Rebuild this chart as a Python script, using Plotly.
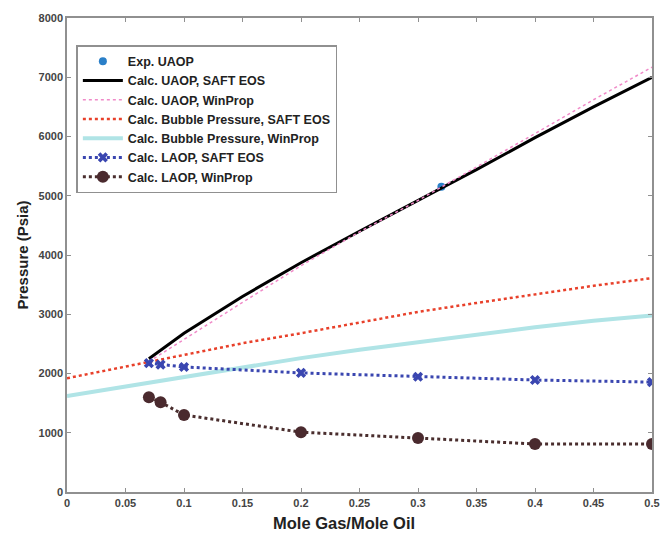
import plotly.graph_objects as go

# Data
exp_x = [0.32]
exp_y = [5150]

uaop_x = [0.07, 0.1, 0.15, 0.2, 0.25, 0.3, 0.35, 0.4, 0.45, 0.5]
uaop_saft = [2250, 2680, 3300, 3870, 4400, 4920, 5440, 5980, 6500, 7000]
uaop_winprop = [2200, 2570, 3200, 3820, 4390, 4920, 5480, 6050, 6620, 7170]

bub_x = [0, 0.05, 0.1, 0.15, 0.2, 0.25, 0.3, 0.35, 0.4, 0.45, 0.5]
bub_saft = [1920, 2120, 2320, 2510, 2680, 2860, 3040, 3190, 3340, 3480, 3610]
bub_winprop = [1620, 1780, 1940, 2100, 2260, 2400, 2530, 2650, 2780, 2890, 2980]

laop_x = [0.07, 0.08, 0.1, 0.2, 0.3, 0.4, 0.5]
laop_saft = [2175, 2150, 2110, 2010, 1945, 1890, 1855]
laop_winprop = [1600, 1515, 1300, 1010, 910, 810, 810]

x_ticks = [0, 0.05, 0.1, 0.15, 0.2, 0.25, 0.3, 0.35, 0.4, 0.45, 0.5]
x_tick_labels = ["0", "0.05", "0.1", "0.15", "0.2", "0.25", "0.3", "0.35", "0.4", "0.45", "0.5"]
y_ticks = [0, 1000, 2000, 3000, 4000, 5000, 6000, 7000, 8000]

names = ["Exp. UAOP", "Calc. UAOP, SAFT EOS", "Calc. UAOP, WinProp",
         "Calc. Bubble Pressure, SAFT EOS", "Calc. Bubble Pressure, WinProp",
         "Calc. LAOP, SAFT EOS", "Calc. LAOP, WinProp"]
x_title = "Mole Gas/Mole Oil"
y_title = "Pressure (Psia)"

fig = go.Figure()

fig.add_trace(go.Scatter(x=exp_x, y=exp_y, mode="markers", name="<b>" + names[0] + "</b>",
                         marker=dict(color="#2a7fc8", size=8, symbol="circle")))
fig.add_trace(go.Scatter(x=uaop_x, y=uaop_saft, mode="lines", name="<b>" + names[1] + "</b>",
                         line=dict(color="black", width=3)))
fig.add_trace(go.Scatter(x=uaop_x, y=uaop_winprop, mode="lines", name="<b>" + names[2] + "</b>",
                         line=dict(color="#f08ac8", width=1.5, dash="dot")))
fig.add_trace(go.Scatter(x=bub_x, y=bub_saft, mode="lines", name="<b>" + names[3] + "</b>",
                         line=dict(color="#e8402a", width=2.5, dash="dot")))
fig.add_trace(go.Scatter(x=bub_x, y=bub_winprop, mode="lines", name="<b>" + names[4] + "</b>",
                         line=dict(color="#b0e4e6", width=4)))
fig.add_trace(go.Scatter(x=laop_x, y=laop_saft, mode="lines+markers", name="<b>" + names[5] + "</b>",
                         line=dict(color="#3a46b0", width=3, dash="dot"),
                         marker=dict(symbol="x", size=9, color="#3a46b0")))
fig.add_trace(go.Scatter(x=laop_x, y=laop_winprop, mode="lines+markers", name="<b>" + names[6] + "</b>",
                         line=dict(color="#4a2e2e", width=3, dash="dot"),
                         marker=dict(symbol="circle", size=12, color="#4a2a2e")))

axis_common = dict(showline=True, linecolor="#909090", linewidth=1.5, mirror="ticks",
                   ticks="inside", tickcolor="#909090", ticklen=4, showgrid=False, zeroline=False,
                   automargin=False,
                   tickfont=dict(family="Arial, Liberation Sans", size=11, color="#444444", weight="bold"))

fig.update_layout(
    width=663, height=533,
    margin=dict(l=67, r=11, t=18, b=41),
    plot_bgcolor="white", paper_bgcolor="white",
    font=dict(family="Arial, Liberation Sans", color="#222222"),
    xaxis=dict(range=[0, 0.5], tickvals=x_ticks, ticktext=x_tick_labels, **axis_common),
    yaxis=dict(range=[0, 8000], tickvals=y_ticks,
               title=dict(text="<b>" + y_title + "</b>", font=dict(size=15, color="#222222"), standoff=6),
               **axis_common),
    legend=dict(x=0.016, y=0.943, xanchor="left", yanchor="top",
                bgcolor="white", bordercolor="#909090", borderwidth=1.5,
                font=dict(family="Arial, Liberation Sans", size=12.5, color="#222222"),
                itemwidth=40, tracegroupgap=0),
    showlegend=True,
    annotations=[dict(text="<b>" + x_title + "</b>", xref="paper", yref="paper",
                      x=0.473, y=-0.043, xanchor="center", yanchor="top", showarrow=False,
                      font=dict(size=16.5, color="#222222"))],
)

fig.write_html("out.html")
